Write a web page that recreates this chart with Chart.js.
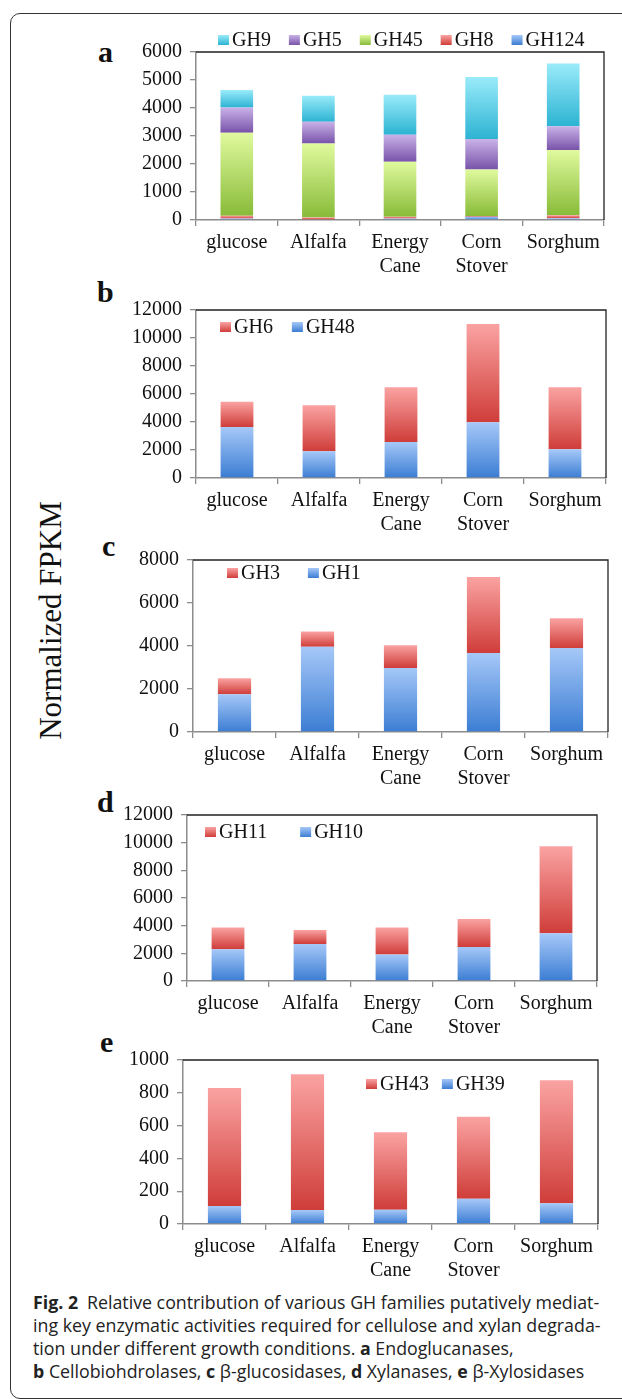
<!DOCTYPE html>
<html>
<head>
<meta charset="utf-8">
<script src="https://cdn.jsdelivr.net/npm/chart.js@4.4.1/dist/chart.umd.min.js"></script>
<style>
html, body { margin: 0; padding: 0; background: #fff; }
body { width: 622px; height: 1399px; position: relative; overflow: hidden; font-family: "Liberation Serif", serif; }
.frame { position: absolute; left: 10px; top: 13px; width: 630px; height: 1386px; border: 1.3px solid #333; border-radius: 10px; box-sizing: border-box; }
canvas { position: absolute; left: 90px; }
.letter { position: absolute; font: bold 30px/30px "Liberation Serif", serif; color: #111; }
#ylab { position: absolute; left: 50px; top: 620px; width: 300px; height: 31px; margin-left: -150px; margin-top: -15.5px;
  text-align: center; font: 31px/31px "Liberation Serif", serif; color: #111; transform: rotate(-90deg); white-space: nowrap; }
#caption { position: absolute; left: 33px; top: 1291px; font: 17.8px/23px "Open Sans", sans-serif; color: #222; white-space: nowrap; }
#caption b { font-weight: bold; }
</style>
</head>
<body>
<div class="frame"></div>
<div id="ylab">Normalized FPKM</div>
<div class="letter" style="left:98px;top:37px">a</div>
<div class="letter" style="left:97px;top:277px">b</div>
<div class="letter" style="left:102px;top:531px">c</div>
<div class="letter" style="left:97px;top:787px">d</div>
<div class="letter" style="left:100px;top:1027px">e</div>

<canvas id="chartA" width="525" height="265" style="top:20px"></canvas>
<canvas id="chartB" width="525" height="250" style="top:285px"></canvas>
<canvas id="chartC" width="525" height="260" style="top:535px"></canvas>
<canvas id="chartD" width="525" height="255" style="top:795px"></canvas>
<canvas id="chartE" width="525" height="250" style="top:1040px"></canvas>

<div id="caption">
<div><b>Fig. 2</b>&ensp;Relative contribution of various GH families putatively mediat-</div>
<div>ing key enzymatic activities required for cellulose and xylan degrada-</div>
<div>tion under different growth conditions. <b>a</b> Endoglucanases,</div>
<div><b>b</b> Cellobiohdrolases, <b>c</b> β-glucosidases, <b>d</b> Xylanases, <b>e</b> β-Xylosidases</div>
</div>

<script>
const categories = ['glucose', 'Alfalfa', ['Energy', 'Cane'], ['Corn', 'Stover'], 'Sorghum'];

// a Endoglucanases
const gh124 = [50, 30, 50, 120, 60];
const gh8 = [100, 55, 70, 25, 110];
const gh45 = [2970, 2650, 1960, 1660, 2330];
const gh5 = [900, 775, 965, 1085, 845];
const gh9 = [620, 930, 1430, 2215, 2240];
const ticksA = [0, 6000, 1000];

// b Cellobiohydrolases
const gh48 = [3650, 1910, 2580, 3990, 2050];
const gh6 = [1790, 3290, 3910, 7010, 4440];
const ticksB = [0, 12000, 2000];

// c beta-glucosidases
const gh1 = [1755, 3960, 2980, 3680, 3910];
const gh3 = [745, 715, 1060, 3525, 1385];
const ticksC = [0, 8000, 2000];

// d Xylanases
const gh10 = [2300, 2680, 1915, 2465, 3445];
const gh11 = [1575, 1005, 1960, 2010, 6290];
const ticksD = [0, 12000, 2000];

// e beta-Xylosidases
const gh39 = [110, 85, 87, 154, 126];
const gh43 = [719, 828, 472, 500, 750];
const ticksE = [0, 1000, 200];

// excel-ish gradient colours (top, bottom)
const BLUE = ['#a6c8f8', '#3b7dd3'];
const RED = ['#faa3a2', '#cf3d39'];
const GREEN = ['#e0fa9e', '#88bb38'];
const PURPLE = ['#c9b2e8', '#7853a9'];
const CYAN = ['#9aebfa', '#2cb3d2'];

const SERIF = '"Liberation Serif", "Times New Roman", serif';

function segFill(colors) {
    return ctx => {
        const chart = ctx.chart;
        const y = chart.scales.y;
        if (!chart.chartArea || !y || ctx.type !== 'data') return colors[1];
        const ds = chart.data.datasets;
        let base = 0;
        for (let k = 0; k < ctx.datasetIndex; k++) base += ds[k].data[ctx.dataIndex];
        const v = ds[ctx.datasetIndex].data[ctx.dataIndex];
        const y0 = y.getPixelForValue(base + v);
        const y1 = y.getPixelForValue(base);
        if (!isFinite(y0) || !isFinite(y1) || Math.abs(y1 - y0) < 0.5) return colors[1];
        const g = chart.ctx.createLinearGradient(0, y0, 0, y1);
        g.addColorStop(0, colors[0]);
        g.addColorStop(1, colors[1]);
        return g;
    };
}

// legend drawn as in the figure: small boxes + serif labels, reverse order
const boxLegend = {
    id: 'boxLegend',
    afterDraw(chart, args, opts) {
        const { ctx, chartArea } = chart;
        ctx.save();
        ctx.font = '20px ' + SERIF;
        ctx.textBaseline = 'middle';
        let x = chartArea.left + opts.x;
        const y = chartArea.top + opts.y;
        chart.data.datasets.slice().reverse().forEach(ds => {
            const g = ctx.createLinearGradient(0, y - 5, 0, y + 5);
            g.addColorStop(0, ds.colors[0]);
            g.addColorStop(1, ds.colors[1]);
            ctx.fillStyle = g;
            ctx.fillRect(x, y - 5, 11, 10);
            ctx.fillStyle = '#111';
            ctx.fillText(ds.label, x + 14, y + 1);
            x += 14 + ctx.measureText(ds.label).width + opts.gap;
        });
        ctx.restore();
    }
};

// dark top and right border of the plot area
const plotFrame = {
    id: 'plotFrame',
    afterDraw(chart) {
        const { ctx, chartArea: a } = chart;
        ctx.save();
        ctx.strokeStyle = '#222';
        ctx.lineWidth = 1.3;
        ctx.beginPath();
        ctx.moveTo(a.left, a.top);
        ctx.lineTo(a.right, a.top);
        ctx.lineTo(a.right, a.bottom);
        ctx.stroke();
        ctx.restore();
    }
};

function makeChart(id, series, ticks, box) {
    const canvas = document.getElementById(id);
    return new Chart(canvas.getContext('2d'), {
        type: 'bar',
        data: {
            labels: categories,
            datasets: series.map(s => ({
                label: s.label,
                data: s.data,
                colors: s.colors,
                backgroundColor: segFill(s.colors),
                borderWidth: 0,
                barPercentage: 0.4,
                categoryPercentage: 1
            }))
        },
        options: {
            responsive: false,
            devicePixelRatio: 1,
            animation: false,
            events: [],
            layout: {
                autoPadding: false,
                padding: { top: box.padTop, right: box.padRight, left: 0, bottom: 0 }
            },
            plugins: {
                legend: { display: false },
                tooltip: { enabled: false },
                boxLegend: box.legend
            },
            scales: {
                x: {
                    stacked: true,
                    grid: { drawOnChartArea: false, drawTicks: true, tickLength: 6, color: '#8c8c8c', lineWidth: 1.3, offset: true },
                    border: { color: '#8c8c8c', width: 1.5 },
                    ticks: { color: '#111', font: { family: SERIF, size: 20, lineHeight: 1.2 }, padding: 5, maxRotation: 0, autoSkip: false },
                    afterFit: s => { s.height = box.xH; }
                },
                y: {
                    stacked: true,
                    min: ticks[0],
                    max: ticks[1],
                    grid: { drawOnChartArea: false, drawTicks: true, tickLength: 6, color: '#8c8c8c', lineWidth: 1.3 },
                    border: { color: '#8c8c8c', width: 1.5 },
                    ticks: {
                        stepSize: ticks[2],
                        color: '#111',
                        font: { family: SERIF, size: 20 },
                        padding: 8,
                        callback: value => String(value)
                    },
                    afterFit: s => { s.width = box.yW; }
                }
            }
        },
        plugins: [boxLegend, plotFrame]
    });
}

makeChart('chartA', [
    { label: 'GH124', data: gh124, colors: BLUE },
    { label: 'GH8', data: gh8, colors: RED },
    { label: 'GH45', data: gh45, colors: GREEN },
    { label: 'GH5', data: gh5, colors: PURPLE },
    { label: 'GH9', data: gh9, colors: CYAN }
], ticksA, { padTop: 32, padRight: 11, xH: 65, yW: 106, legend: { x: 22, y: -12, gap: 18 } });

makeChart('chartB', [
    { label: 'GH48', data: gh48, colors: BLUE },
    { label: 'GH6', data: gh6, colors: RED }
], ticksB, { padTop: 25, padRight: 9, xH: 57, yW: 106, legend: { x: 24, y: 17, gap: 19 } });

makeChart('chartC', [
    { label: 'GH1', data: gh1, colors: BLUE },
    { label: 'GH3', data: gh3, colors: RED }
], ticksC, { padTop: 25, padRight: 7, xH: 63, yW: 103, legend: { x: 34, y: 13, gap: 28 } });

makeChart('chartD', [
    { label: 'GH10', data: gh10, colors: BLUE },
    { label: 'GH11', data: gh11, colors: RED }
], ticksD, { padTop: 19, padRight: 18, xH: 69, yW: 97, legend: { x: 18, y: 17, gap: 33 } });

makeChart('chartE', [
    { label: 'GH39', data: gh39, colors: BLUE },
    { label: 'GH43', data: gh43, colors: RED }
], ticksE, { padTop: 15, padRight: 17, xH: 66, yW: 93, legend: { x: 183, y: 24, gap: 13 } });
</script>
</body>
</html>
